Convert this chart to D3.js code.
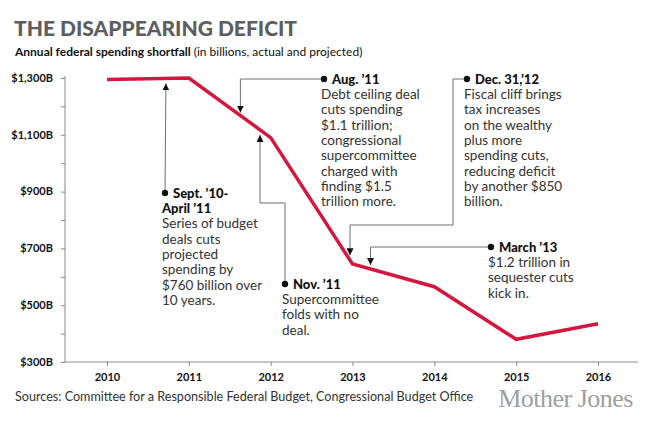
<!DOCTYPE html>
<html>
<head>
<meta charset="utf-8">
<script src="https://cdn.jsdelivr.net/npm/d3@7"></script>
<style>
  body { margin: 0; background: #fff; }
  text { font-family: Lato, "Open Sans", sans-serif; }
</style>
</head>
<body>
<div id="chart"></div>
<script>
var years = [2010, 2011, 2012, 2013, 2014, 2015, 2016]
  , deficits = [1295, 1300, 1090, 645, 565, 380, 435]
  , yTicks = [300, 400, 500, 600, 700, 800, 900, 1000, 1100, 1200, 1300]
  , yLabels = [300, 500, 700, 900, 1100, 1300]
  , noteTitles = [["Sept. \u201910-", "April \u201911"], ["Aug. \u201911"], ["Nov. \u201911"], ["Dec. 31,\u201912"], ["March \u201913"]]
  , noteBodies = [
      ["Series of budget", "deals cuts", "projected", "spending by", "$760 billion over", "10 years."],
      ["Debt ceiling deal", "cuts spending", "$1.1 trillion;", "congressional", "supercommittee", "charged with", "finding $1.5", "trillion more."],
      ["Supercommittee", "folds with no", "deal."],
      ["Fiscal cliff brings", "tax increases", "on the wealthy", "plus more", "spending cuts,", "reducing deficit", "by another $850", "billion."],
      ["$1.2 trillion in", "sequester cuts", "kick in."]
    ]
  , noteDates = [2010.72, 2011.63, 2011.87, 2012.97, 2013.22]
  ;

var width = 649, height = 423
  , svg = d3.select("#chart").append("svg")
      .attr("width", width)
      .attr("height", height)
  , x = d3.scaleLinear().domain([2010, 2016]).range([107, 598])
  , y = d3.scaleLinear().domain([300, 1300]).range([362, 78])
  , lineColor = "#d3183f"
  , axisColor = "#8a8a8a"
  ;

// arrowhead
svg.append("defs").append("marker")
    .attr("id", "arrow")
    .attr("viewBox", "0 0 10 10")
    .attr("refX", 10)
    .attr("refY", 5)
    .attr("markerWidth", 7)
    .attr("markerHeight", 7)
    .attr("markerUnits", "userSpaceOnUse")
    .attr("orient", "auto")
  .append("path")
    .attr("d", "M0,0L10,5L0,10Z")
    .attr("fill", "#111");

// titles
svg.append("text")
    .attr("x", 14)
    .attr("y", 36)
    .attr("fill", "#5d5e60")
    .style("font-size", "21px")
    .style("font-weight", 900)
    .text("THE DISAPPEARING DEFICIT");

var sub = svg.append("text")
    .attr("x", 15)
    .attr("y", 56)
    .attr("fill", "#111")
    .style("font-size", "12px");
sub.append("tspan").style("font-weight", 700).text("Annual federal spending shortfall ");
sub.append("tspan").text("(in billions, actual and projected)");

// y axis
var yAxis = d3.axisLeft(y)
    .tickValues(yTicks)
    .tickSize(4)
    .tickFormat("");
svg.append("g")
    .attr("transform", "translate(65,0)")
    .call(yAxis)
    .call(function (g) {
      g.select(".domain").attr("stroke", axisColor).attr("d", "M0,76V362");
      g.selectAll(".tick line").attr("stroke", axisColor);
    });

svg.append("g").selectAll("text")
    .data(yLabels)
  .enter().append("text")
    .attr("x", 53)
    .attr("y", function (d) { return y(d); })
    .attr("dy", "0.35em")
    .attr("text-anchor", "end")
    .attr("fill", "#111")
    .style("font-size", "11px")
    .style("font-weight", 700)
    .text(function (d) { return "$" + d3.format(",")(d) + "B"; });

// x axis
var xAxis = d3.axisBottom(x)
    .tickValues(years)
    .tickSize(4)
    .tickPadding(7)
    .tickFormat(d3.format("d"));
svg.append("g")
    .attr("transform", "translate(0,362)")
    .call(xAxis)
    .call(function (g) {
      g.select(".domain").attr("stroke", axisColor).attr("d", "M65,0H638");
      g.selectAll(".tick line").attr("stroke", axisColor);
      g.selectAll(".tick text")
        .attr("fill", "#111")
        .style("font-family", "Lato, sans-serif")
        .style("font-size", "11px")
        .style("font-weight", 700);
    });

// the line
var line = d3.line()
    .x(function (d, i) { return x(years[i]); })
    .y(function (d) { return y(d); });

svg.append("path")
    .datum(deficits)
    .attr("d", line)
    .attr("fill", "none")
    .attr("stroke", lineColor)
    .attr("stroke-width", 3.5)
    .attr("stroke-linejoin", "miter");

function valueAt(yr) {
  var i = Math.min(years.length - 2, Math.floor(yr - years[0]))
    , t = yr - years[i]
    ;
  return deficits[i] + (deficits[i + 1] - deficits[i]) * t;
}

// annotation layout: dot position, connector elbows, tip gap
var notes = [
  { dot: [165, 193], elbows: [], gap: 5 },
  { dot: [324, 79], elbows: [[null, 79]], gap: -3 },
  { dot: [285, 284], elbows: [[285, 203], [null, 203]], gap: 5 },
  { dot: [467, 79], elbows: [[453, 79], [453, 225], [null, 225]], gap: -5 },
  { dot: [491, 247], elbows: [[null, 247]], gap: -4 }
];

notes.forEach(function (n, i) {
  var tx = x(noteDates[i])
    , ty = y(valueAt(noteDates[i])) + n.gap
    , pts = [n.dot].concat(n.elbows.map(function (p) {
        return [p[0] === null ? tx : p[0], p[1]];
      }))
    , g = svg.append("g")
    ;

  pts.push([tx, ty]);

  g.append("path")
    .attr("d", d3.line()(pts))
    .attr("fill", "none")
    .attr("stroke", "#6d6e71")
    .attr("stroke-width", 1)
    .attr("marker-end", "url(#arrow)");

  g.append("circle")
    .attr("cx", n.dot[0])
    .attr("cy", n.dot[1])
    .attr("r", 3.2)
    .attr("fill", "#111");

  var lineH = 15.3
    , rows = []
    ;
  noteTitles[i].forEach(function (t, j) {
    rows.push({ text: t, bold: true, x: j === 0 ? n.dot[0] + 8 : n.dot[0] - 3 });
  });
  noteBodies[i].forEach(function (t) {
    rows.push({ text: t, bold: false, x: n.dot[0] - 3 });
  });

  g.selectAll("text")
      .data(rows)
    .enter().append("text")
      .attr("x", function (d) { return d.x; })
      .attr("y", function (d, j) { return n.dot[1] + j * lineH; })
      .attr("dy", "0.36em")
      .attr("fill", function (d) { return d.bold ? "#111" : "#333"; })
      .style("font-size", function (d) { return d.bold ? "13px" : "13.5px"; })
      .style("font-weight", function (d) { return d.bold ? 900 : 400; })
      .text(function (d) { return d.text; });
});

// footer
svg.append("text")
    .attr("x", 15)
    .attr("y", 397)
    .attr("dy", "0.35em")
    .attr("fill", "#333")
    .style("font-size", "12.6px")
    .text("Sources: Committee for a Responsible Federal Budget, Congressional Budget Office");

svg.append("text")
    .attr("x", 633)
    .attr("y", 407)
    .attr("text-anchor", "end")
    .attr("fill", "#9d9fa2")
    .style("font-family", "\"Liberation Serif\", serif")
    .style("font-size", "26px")
    .style("letter-spacing", "-0.5px")
    .text("Mother Jones");
</script>
</body>
</html>
